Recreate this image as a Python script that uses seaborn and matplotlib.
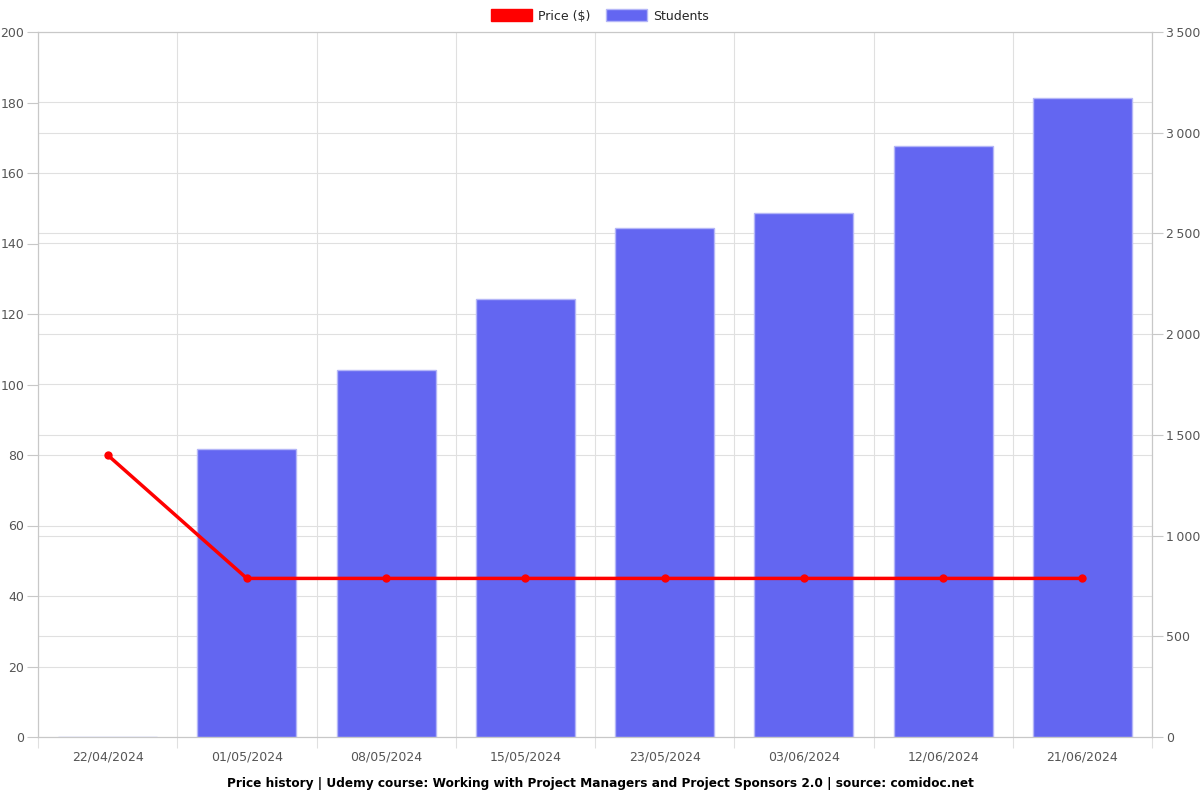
import numpy as np
import matplotlib.pyplot as plt
import seaborn as sns
from matplotlib.patches import Patch
from matplotlib.ticker import FuncFormatter

# data
dates = ["22/04/2024", "01/05/2024", "08/05/2024", "15/05/2024",
         "23/05/2024", "03/06/2024", "12/06/2024", "21/06/2024"]
students = [2, 1432, 1823, 2175, 2527, 2601, 2934, 3172]
price = [79.99, 44.99, 44.99, 44.99, 44.99, 44.99, 44.99, 44.99]
price_ticks = list(range(0, 201, 20))
student_ticks = list(range(0, 3501, 500))

bar_color = "#6366f1"
edge_color = "#b4b6f7"
grid_color = "#e0e0e0"
spine_color = "#c8c8c8"
text_color = "#555555"

sns.set_theme(style="white")
plt.rcParams["font.family"] = ["DejaVu Sans"]

fig, ax = plt.subplots(figsize=(12, 8), dpi=100)
fig.subplots_adjust(left=38 / 1200, right=1152 / 1200, top=1 - 32 / 800, bottom=1 - 737 / 800)

# students bars on bottom axes, scale shown on the right
sns.barplot(x=dates, y=students, ax=ax, color=bar_color, saturation=1,
            width=0.71, edgecolor=edge_color, linewidth=1, zorder=2)
ax.set_xlim(-0.5, len(dates) - 0.5)
ax.set_ylim(0, 3500)
ax.set_yticks(student_ticks)
ax.yaxis.set_major_formatter(FuncFormatter(lambda v, p: f"{int(v):,}".replace(",", "\u2009")))
# price gridlines drawn as minor ticks so they stay behind bars
ax.set_yticks([t * 3500 / 200 for t in price_ticks], minor=True)
ax.set_xticks(np.arange(-0.5, len(dates), 1), minor=True)
ax.grid(True, axis="y", which="both", color=grid_color, linewidth=0.8, zorder=0)
ax.grid(True, axis="x", which="minor", color=grid_color, linewidth=0.8, zorder=0)
ax.grid(False, axis="x", which="major")
ax.set_axisbelow(True)
ax.set_xlabel("")
ax.set_ylabel("")

# price line on twin axes, scale shown on the left
ax2 = ax.twinx()
sns.lineplot(x=np.arange(len(dates)), y=price, ax=ax2, color="#ff0000",
             linewidth=2.5, marker="o", markersize=6, markeredgewidth=0, sort=False)
ax2.set_ylim(0, 200)
ax2.set_yticks(price_ticks)
ax2.set_ylabel("")
ax2.grid(False)

ax.yaxis.tick_right()
ax2.yaxis.tick_left()
ax.tick_params(axis="y", which="major", length=8, width=0.8, color=spine_color,
               labelcolor=text_color, labelsize=9, pad=2)
ax.tick_params(axis="y", which="minor", length=0)
ax.tick_params(axis="x", which="major", length=0, labelcolor=text_color, labelsize=9, pad=10)
ax.tick_params(axis="x", which="minor", length=8, width=0.8, color=grid_color, bottom=True)
ax2.tick_params(axis="y", length=8, width=0.8, color=spine_color,
                labelcolor=text_color, labelsize=9, pad=2)

for a in (ax, ax2):
    for s in a.spines.values():
        s.set_color(spine_color)
        s.set_linewidth(0.8)

handles = [Patch(facecolor="#ff0000", edgecolor="#ff0000", label="Price ($)"),
           Patch(facecolor=bar_color, edgecolor=edge_color, label="Students")]
fig.legend(handles=handles, loc="center", bbox_to_anchor=(0.5, 1 - 16 / 800), ncol=2,
           frameon=False, fontsize=9, handlelength=3.3, handleheight=1.1, columnspacing=1.2,
           handletextpad=0.5)

fig.text(0.5, 1 - 783 / 800,
         "Price history | Udemy course: Working with Project Managers and Project Sponsors 2.0 | source: comidoc.net",
         ha="center", va="center", fontsize=8.7, fontweight="bold", color="#000000")

fig.savefig("out.png", dpi=100)
